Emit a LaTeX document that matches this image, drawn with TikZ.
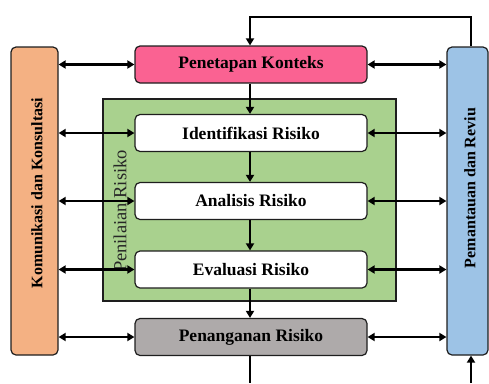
\documentclass[tikz,border=0pt]{standalone}
\usepackage{fontspec}
\setmainfont{Liberation Serif}
\usetikzlibrary{arrows.meta}
\definecolor{pinkbox}{RGB}{250,98,146}
\definecolor{orangebox}{RGB}{244,177,131}
\definecolor{bluebox}{RGB}{157,195,230}
\definecolor{greenbox}{RGB}{169,209,142}
\definecolor{graybox}{RGB}{174,170,170}
\definecolor{edge}{RGB}{30,30,30}
\tikzset{
  procbox/.style={draw=edge, line width=1.2pt, rounded corners=5pt, minimum width=232pt, minimum height=37pt, inner sep=0pt, font=\bfseries\fontsize{17.5}{20}\selectfont},
  sidebox/.style={draw=edge, line width=1.2pt, rounded corners=5pt, minimum height=308pt, inner sep=0pt},
  sidetext/.style={rotate=90, font=\bfseries\fontsize{16}{19}\selectfont},
  arr/.style={line width=2.4pt, -{Triangle[length=7pt,width=8pt]}},
  dblarr/.style={line width=2.4pt, {Triangle[length=7pt,width=8pt]}-{Triangle[length=7pt,width=8pt]}},
  plain/.style={line width=2.4pt}
}
\begin{document}
\begin{tikzpicture}[x=1pt,y=-1pt]
\useasboundingbox (0,0) rectangle (489,383);
% green assessment area
\node[draw=edge, line width=1.2pt, fill=greenbox, minimum width=293pt, minimum height=202pt, inner sep=0pt] (green) at (249.5,200) {};
\node[rotate=90, font=\fontsize{18.5}{21}\selectfont, text=black!85] (penilaian) at (120,211) {Penilaian Risiko};
% side boxes
\node[sidebox, fill=orangebox, minimum width=47pt] (kom) at (34.5,201) {};
\node[sidetext] (komtext) at (37,193) {Komunikasi dan Konsultasi};
\node[sidebox, fill=bluebox, minimum width=41pt] (pem) at (467.5,201) {};
\node[sidetext] (pemtext) at (470,188) {Pemantauan dan Reviu};
% process boxes
\node[procbox, fill=pinkbox] (kon) at (251,64.5) {Penetapan Konteks};
\node[procbox, fill=white] (ide) at (251,133) {Identifikasi Risiko};
\node[procbox, fill=white] (ana) at (251,201) {Analisis Risiko};
\node[procbox, fill=white] (eva) at (251,269.5) {Evaluasi Risiko};
\node[procbox, fill=graybox] (pen) at (251,337) {Penanganan Risiko};
% vertical flow
\coordinate (colx) at (250,0);
\draw[arr] (kon.south -| colx) -- (ide.north -| colx);
\draw[arr] (ide.south -| colx) -- (ana.north -| colx);
\draw[arr] (ana.south -| colx) -- (eva.north -| colx);
\draw[arr] (eva.south -| colx) -- (pen.north -| colx);
\coordinate (bl) at (250,383);
\draw[plain] (pen.south -| bl) -- (bl);
% top loop
\coordinate (tl) at (471,17);
\draw[arr] (pem.north -| tl) -- (tl) -| (kon.north -| colx);
% bottom right arrow
\coordinate (br) at (471,383);
\draw[arr] (br) -- (pem.south -| br);
% horizontal double arrows
\foreach \n in {kon,ide,ana,eva,pen}{
  \draw[dblarr] (kom.east |- \n.west) -- (\n.west);
  \draw[dblarr] (\n.east) -- (pem.west |- \n.east);
}
\end{tikzpicture}
\end{document}
